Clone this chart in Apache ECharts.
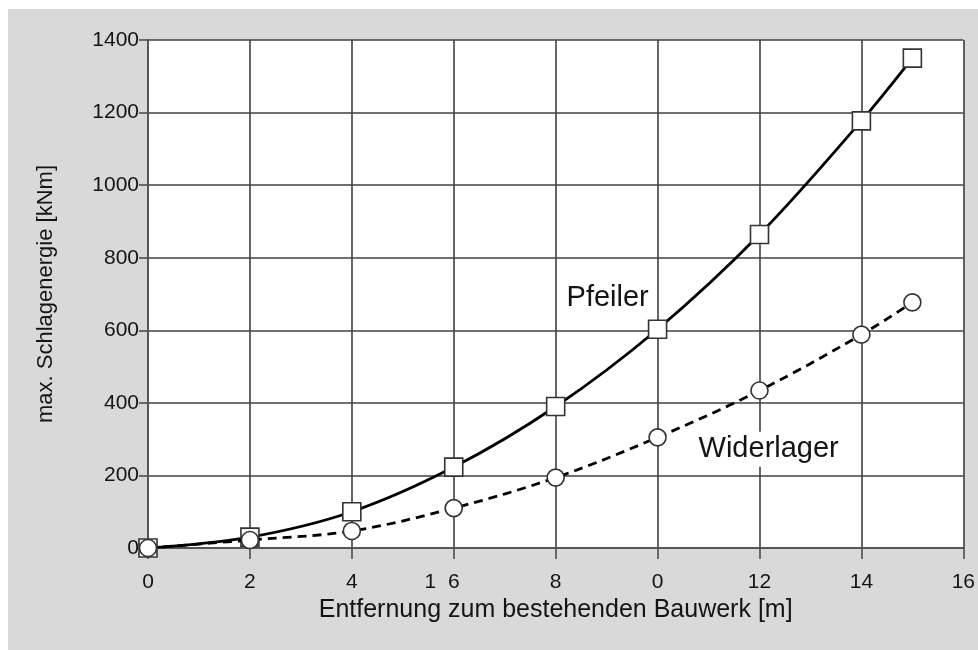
<!DOCTYPE html>
<html>
<head>
<meta charset="utf-8">
<script src="https://cdn.jsdelivr.net/npm/echarts@6/dist/echarts.min.js"></script>
<style>
html,body{margin:0;padding:0;background:#ffffff;}
#chart{width:978px;height:650px;}
</style>
</head>
<body>
<div id="chart"></div>
<script>
// Data
const xValues = [0, 2, 4, 6, 8, 10, 12, 14, 15];
const pfeiler = [0, 30, 100, 223, 390, 603, 864, 1177, 1350];
const widerlager = [0, 22, 47, 110, 194, 305, 434, 588, 677];
const xTickLabels = {0:'0', 2:'2', 4:'4', 6:'1  6', 8:'8', 10:'0', 12:'12', 14:'14', 16:'16'};
const yTicks = [0, 200, 400, 600, 800, 1000, 1200, 1400];
const pfeilerLabel = {text: 'Pfeiler', x: 9.02, y: 688};
const widerlagerLabel = {text: 'Widerlager', x: 12.18, y: 272};

const FONT = '"Liberation Sans", Arial, Helvetica, sans-serif';
const TXT = '#141414';
const chart = echarts.init(document.getElementById('chart'), null, {renderer: 'canvas'});

function pairs(ys) { return xValues.map((x, i) => [x, ys[i]]); }

const bgRect = {
  type: 'rect', z: -10, silent: true,
  shape: {x: 8, y: 9, width: 970, height: 641},
  style: {fill: '#d9d9d9'}
};

const option = {
  backgroundColor: '#ffffff',
  animation: false,
  graphic: [bgRect],
  grid: {left: 148, right: 14, top: 40, bottom: 102, backgroundColor: '#ffffff', show: true, borderWidth: 0},
  xAxis: {
    type: 'value', min: 0, max: 16, interval: 2,
    name: 'Entfernung zum bestehenden Bauwerk [m]',
    nameLocation: 'middle', nameGap: 39,
    nameTextStyle: {fontFamily: FONT, fontSize: 25, color: TXT},
    axisLine: {show: true, onZero: false, lineStyle: {color: '#555', width: 2}},
    axisTick: {show: true, length: 11, lineStyle: {color: '#444', width: 1.5}},
    axisLabel: {
      fontFamily: FONT, fontSize: 21, color: TXT, margin: 24,
      formatter: v => {
        const t = xTickLabels[v];
        if (t === '1  6') return '{s|1  }6{h|1  }';
        return t;
      },
      rich: {s: {fontFamily: FONT, fontSize: 21, color: TXT}, h: {fontFamily: FONT, fontSize: 21, color: 'rgba(0,0,0,0)'}}
    },
    splitLine: {show: true, lineStyle: {color: '#404040', width: 1.6}}
  },
  yAxis: {
    type: 'value', min: 0, max: 1400, interval: 200,
    name: 'max. Schlagenergie [kNm]',
    nameLocation: 'middle', nameGap: 91,
    nameTextStyle: {fontFamily: FONT, fontSize: 22, color: TXT},
    axisLine: {show: true, lineStyle: {color: '#555', width: 2}},
    axisTick: {show: true, length: 9, lineStyle: {color: '#444', width: 1.5}},
    axisLabel: {fontFamily: FONT, fontSize: 21, color: TXT, margin: 9,
      formatter: v => yTicks.includes(v) ? String(v) : ''},
    splitLine: {show: true, lineStyle: {color: '#404040', width: 1.6}}
  },
  series: [
    {
      name: 'Pfeiler', type: 'line', smooth: 0.35,
      data: pairs(pfeiler),
      symbol: 'rect', symbolSize: 18, showAllSymbol: true,
      lineStyle: {color: '#000', width: 2.8},
      itemStyle: {color: '#ffffff', borderColor: '#333', borderWidth: 1.6},
      z: 3
    },
    {
      name: 'Widerlager', type: 'line', smooth: 0.35,
      data: pairs(widerlager),
      symbol: 'circle', symbolSize: 17, showAllSymbol: true,
      lineStyle: {color: '#000', width: 2.8, type: [9, 6]},
      itemStyle: {color: '#ffffff', borderColor: '#333', borderWidth: 1.6},
      z: 4
    }
  ]
};
chart.setOption(option);

function labelGraphic(l) {
  const p = chart.convertToPixel({gridIndex: 0}, [l.x, l.y]);
  return {
    type: 'text', x: p[0], y: p[1], z: 10,
    style: {text: l.text, fontFamily: FONT, fontSize: 29, fill: TXT,
      align: 'center', verticalAlign: 'middle', backgroundColor: '#ffffff', padding: [3, 4]}
  };
}
chart.setOption({graphic: [bgRect, labelGraphic(pfeilerLabel), labelGraphic(widerlagerLabel)]});
</script>
</body>
</html>
